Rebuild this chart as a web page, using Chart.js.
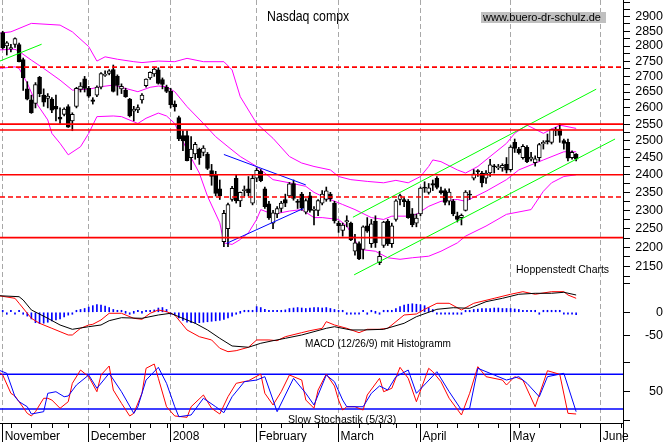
<!DOCTYPE html>
<html><head><meta charset="utf-8">
<script src="https://cdn.jsdelivr.net/npm/chart.js@4.4.1/dist/chart.umd.min.js"></script>
<style>
html,body{margin:0;padding:0;background:#fff;}
#wrap{position:relative;width:671px;height:442px;overflow:hidden;background:#fff;}
#c{position:absolute;left:0;top:0;}
.t{position:absolute;font-family:'Liberation Sans',Arial,sans-serif;color:#000;white-space:nowrap;transform-origin:0 0;}
</style></head><body>
<div id="wrap">
<canvas id="c" width="671" height="442"></canvas>
<div class="t" style="left:267px;top:9px;font-size:14px;line-height:14px;transform:scaleX(0.88);">Nasdaq compx</div>
<div class="t" style="left:481px;top:12px;height:11px;width:123px;padding-left:2px;font-size:11px;line-height:11px;background:#c0c0c0;">www.buero-dr-schulz.de</div>
<div class="t" style="left:515.5px;top:263.5px;font-size:11.5px;line-height:11.5px;transform:scaleX(0.91);">Hoppenstedt Charts</div>
<div class="t" style="left:305px;top:338px;font-size:11.5px;line-height:11.5px;transform:scaleX(0.875);">MACD (12/26/9) mit Histogramm</div>
<div class="t" style="left:288px;top:413.5px;font-size:11.5px;line-height:11.5px;transform:scaleX(0.92);">Slow Stochastik (5/3/3)</div>
</div>
<script>
// ---- axis ranges (trading-day index, Nov 1 2007 = 0) ----
const xMin = -0.66, xMax = 151.44;
const monthStarts = [0, 21, 41, 62, 82, 102, 124, 146];
const monthLabels = ['November', 'December', '2008', 'February', 'March', 'April', 'May', 'June'];
const weekStarts = [2, 7, 12, 16, 26, 31, 36, 40, 44, 49, 54, 58, 63, 68, 73, 77, 87, 92, 96, 101, 106, 111, 116, 121, 126, 131, 136, 141, 151];
const priceTicks = [2125,2150,2175,2200,2225,2250,2275,2300,2325,2350,2375,2400,2425,2450,2475,2500,2525,2550,2575,2600,2625,2650,2675,2700,2725,2750,2775,2800,2825,2850,2875,2900,2925,2950];
const macdTicks = [-50, 0, 60];
const stochTicks = [0, 50, 100];

// ---- daily candles ----
const opens = [2845,2800,2790,2805,2805,2755,2660,2625,2614,2697, 2640,2630,2628,2605,2572,2580,2604,2560,2605,2658,
 2692,2662,2625,2640,2665,2703,2710,2722,2700,2660, 2655,2628,2590,2594,2625,2670,2695,2708,2721,2690,
 2666,2653,2612,2570,2515,2515,2450,2461,2474,2465, 2460,2412,2400,2360,2215,2250,2330,2390,2326,2355,
 2360,2320,2390,2410,2360,2318,2265,2290,2305,2330, 2340,2375,2325,2345,2295,2340,2300,2300,2320,2330,
 2345,2320,2265,2245,2268,2265,2190,2210,2195,2258, 2210,2270,2160,2205,2270,2210,2275,2330,2330,2325,
 2290,2265,2290,2365,2350,2375,2390,2355,2355,2325, 2325,2285,2280,2300,2345,2390,2412,2405,2390,2405,
 2425,2420,2420,2430,2415,2495,2475,2450,2480,2445, 2435,2450,2490,2500,2495,2535,2535,2500,2495,2450, 2460];
const highs = [2850,2815,2806,2828,2810,2760,2683,2640,2680,2700, 2660,2645,2632,2640,2600,2600,2610,2585,2665,2680,
 2700,2668,2632,2670,2712,2718,2722,2737,2705,2676, 2662,2630,2605,2610,2645,2692,2715,2726,2728,2695,
 2672,2662,2622,2575,2530,2530,2512,2495,2478,2485, 2465,2430,2410,2385,2300,2320,2367,2399,2351,2368,
 2395,2400,2420,2415,2365,2325,2300,2310,2325,2345, 2378,2385,2330,2350,2332,2350,2310,2330,2355,2365,
 2350,2325,2270,2265,2285,2268,2235,2215,2258,2280, 2275,2285,2190,2270,2275,2265,2330,2345,2335,2330,
 2305,2290,2365,2380,2375,2385,2395,2365,2360,2360, 2330,2295,2290,2355,2355,2415,2415,2410,2412,2445,
 2430,2430,2432,2450,2485,2505,2480,2488,2485,2465, 2455,2492,2500,2520,2535,2540,2551,2505,2505,2470, 2462];
const lows = [2790,2770,2780,2795,2747,2655,2625,2583,2600,2635, 2605,2600,2585,2560,2552,2575,2540,2530,2600,2650,
 2650,2633,2612,2635,2660,2700,2705,2650,2640,2645, 2633,2572,2560,2585,2615,2665,2690,2700,2675,2660,
 2648,2600,2590,2500,2470,2440,2415,2445,2430,2455, 2415,2370,2340,2330,2202,2202,2325,2320,2310,2340,
 2340,2315,2380,2380,2305,2275,2250,2280,2295,2310, 2335,2328,2305,2300,2290,2295,2260,2285,2315,2325,
 2325,2265,2240,2230,2255,2218,2180,2168,2170,2240, 2200,2200,2155,2200,2205,2200,2270,2315,2310,2278,
 2255,2255,2285,2350,2345,2355,2360,2345,2315,2315, 2285,2268,2260,2298,2330,2385,2395,2365,2375,2395,
 2405,2415,2410,2405,2410,2465,2460,2445,2435,2440, 2425,2440,2475,2490,2490,2515,2495,2475,2440,2445, 2440];
const closes = [2794,2811,2795,2825,2748,2696,2627,2585,2674,2645, 2618,2637,2593,2596,2565,2596,2541,2580,2662,2669,
 2661,2637,2620,2666,2709,2707,2718,2652,2671,2668, 2635,2575,2596,2601,2640,2691,2713,2724,2677,2674,
 2652,2610,2603,2505,2499,2441,2475,2489,2450,2478, 2418,2395,2347,2340,2292,2316,2361,2326,2350,2358,
 2349,2390,2413,2383,2310,2279,2293,2305,2320,2320, 2374,2333,2322,2306,2327,2300,2303,2327,2345,2354,
 2332,2271,2258,2260,2272,2220,2212,2170,2255,2243, 2263,2212,2177,2268,2209,2258,2326,2341,2324,2280,
 2261,2279,2362,2362,2363,2370,2364,2349,2322,2351, 2290,2275,2286,2351,2342,2403,2408,2377,2405,2429,
 2423,2424,2427,2413,2481,2477,2464,2483,2438,2451, 2446,2488,2495,2497,2534,2529,2516,2492,2448,2465, 2445];

// ---- Bollinger bands [day, value] ----
const bbUpper = [[-1,2843],[2,2848],[7,2877],[14,2871],[17,2848],[21,2798],[23,2750],[25,2764],[28,2756],[32,2748],[34,2745],[38,2750],[42,2748],[45,2759],[49,2748],[54,2748],[56,2721],[58,2635],[62,2552],[66,2507],[70,2453],[73,2434],[76,2424],[80,2414],[82,2395],[85,2386],[89,2381],[93,2377],[96,2384],[99,2377],[102,2395],[104,2424],[105,2443],[107,2438],[111,2414],[113,2405],[116,2424],[119,2453],[123,2492],[125,2522],[128,2547],[132,2522],[136,2547],[140,2537]];
const bbMiddle = [[-1,2787],[3,2789],[4,2782],[7,2753],[10,2726],[14,2688],[17,2656],[21,2659],[24,2667],[27,2672],[29,2665],[33,2651],[36,2665],[38,2669],[40,2667],[42,2651],[45,2604],[49,2552],[52,2512],[55,2482],[58,2453],[62,2424],[66,2386],[70,2377],[74,2367],[76,2350],[78,2339],[80,2330],[83,2316],[86,2302],[90,2280],[93,2275],[95,2284],[99,2284],[101,2289],[104,2311],[107,2325],[111,2330],[113,2325],[118,2353],[123,2386],[126,2414],[132,2443],[137,2467],[140,2467]];
const bbLower = [[-1,2726],[3,2731],[4,2726],[6,2678],[8,2619],[11,2563],[12,2522],[14,2492],[16,2458],[19,2482],[21,2522],[23,2573],[27,2575],[29,2573],[33,2552],[35,2568],[38,2584],[40,2575],[42,2552],[45,2472],[48,2405],[50,2339],[53,2266],[54,2212],[56,2208],[58,2221],[60,2239],[62,2275],[63,2302],[66,2289],[70,2298],[73,2302],[76,2280],[78,2280],[82,2275],[84,2257],[86,2221],[87,2195],[91,2190],[94,2173],[97,2169],[100,2173],[104,2177],[107,2190],[111,2212],[113,2230],[118,2257],[123,2289],[129,2302],[132,2353],[134,2377],[137,2395],[140,2400]];

// ---- support / resistance and trend lines ----
const solidLevels = [2550, 2532, 2400, 2226];
const dashedLevels = [2730, 2337];
const greenLines = [
  [[-0.7, 2750], [9.5, 2806]],
  [[85.5, 2281], [144.9, 2659]],
  [[85.8, 2129], [149.5, 2505]]
];
const blueLines = [
  [[54.0, 2459], [74.0, 2371]],
  [[54.7, 2211], [73.4, 2305]]
];

// ---- MACD (12/26/9) ----
const macdLine = [[-1,35],[3,29.5],[4,19],[7,-12.7],[9,-23.2],[12,-33.8],[14,-40.9],[16,-47.9],[17,-47.9],[19,-33.8],[21,-26.8],[22,-25.3],[24,-16.2],[26,-2.1],[29,-2.1],[32,-12.7],[34,-14.8],[36,-2.1],[38,4.9],[40,1.3],[42,-5.7],[45,-37.3],[48,-51.5],[51,-58.4],[53,-75.9],[55,-83.1],[57,-81],[60,-73.8],[62,-58.4],[65,-58.4],[67,-59.9],[69,-51.5],[73,-43],[75,-38.8],[78,-33.8],[79,-19.8],[81,-26.8],[84,-33.8],[87,-43],[89,-35.9],[92,-35.9],[94,-33.8],[98,-5.7],[101,-3.6],[103,6.3],[106,19],[109,19],[112,4.9],[115,19],[120,29.5],[124,38],[127,43.5],[130,38],[134,43.5],[137,43.5],[138,36.5],[140,29.5]];
const macdSignal = [[-1,35],[4,32.9],[5,25.9],[7,4.9],[11,-12.7],[14,-26.8],[17,-35.9],[21,-30.4],[24,-26.8],[26,-17.7],[29,-11.4],[34,-12.7],[38,-5.7],[41,-2.1],[43,-9.3],[47,-23.2],[50,-37.3],[53,-54.9],[56,-71.1],[60,-73.8],[63,-65.4],[66,-59.9],[69,-54.9],[73,-47.9],[76,-40.9],[79,-33.8],[81,-30.4],[85,-37.3],[88,-37.3],[93,-35.9],[98,-23.2],[101,-9.3],[106,6.3],[110,9.7],[114,8.4],[118,22.4],[122,29.5],[126,38],[130,40.1],[134,40.1],[137,42.2],[140,36.5]];
const macdHist = [1,-1,1,-1,1,-2, -8,-14,-22,-24,-23,-21,-18,-16,-14,-10,-6, -2,
 3,6,8,11,14,16,15,13,10,6,3, 1,0,-1,0,1,0,1,1, 5,9,10,6, -2,
 -6,-12,-17,-21,-22,-23,-22,-21,-20,-19,-18,-17,-15,-12,-8, -3,0,1,2,1,
 12,10,6,3,3,4,3,5,8,9,10,9,8,9,10,10,9,10,8,6,
 2,1,-2,-1,-3,-2,1,-1,1,0,-1,1,2, 4,8,12,15,17,18,17,16,14,10,6,
 -1,-3,-4,-4,-3,-2,-1, 2,4, 6,7,8,8,8,9,9,8,8,8,7,6,4,
 2,1,2,-1,1,2,3,2,1,-1,-2,-3,-5];

// ---- Slow Stochastik (5/3/3) ----
const stochK = [[-1,84.6],[0,78.9],[2,47.2],[3,42.6],[4,32.7],[6,12.6],[7,8],[8,15.4],[10,38.6],[11,38.6],[12,35.6],[14,21.3],[16,32.7],[17,64.5],[19,87.5],[21,76],[23,50],[24,78.9],[26,94.5],[27,52.9],[29,29.9],[31,8],[32,12.6],[34,47.2],[35,90.5],[37,97.9],[38,73.2],[40,24],[42,8],[45,5.7],[46,24],[49,44.3],[51,21.3],[53,11.4],[55,41.3],[57,64.5],[60,69],[63,80.6],[64,47.2],[66,27],[68,50],[70,78.9],[73,70.2],[74,35.6],[76,21.3],[77,52.9],[79,80.6],[81,59.9],[82,35.6],[83,18.3],[84,24],[86,24],[88,18.3],[89,44.3],[92,73.2],[93,50],[95,55.9],[97,92.2],[99,73.2],[101,32.7],[104,90.5],[105,84.6],[107,67.3],[109,38.6],[112,9.7],[114,47.2],[116,93.3],[118,76],[122,70.2],[123,61.6],[125,76],[127,70.2],[130,24],[133,86.3],[136,80.1],[138,12.6],[140,11.4]];
const stochD = [[-1,87.5],[1,81.8],[3,41.3],[4,32.7],[6,24],[7,11.4],[10,15.4],[11,47.2],[13,50],[15,41.3],[16,42.6],[18,61.6],[21,78.9],[23,55.9],[26,81.8],[29,50],[32,12.6],[33,24],[35,70.2],[38,92.2],[40,64.5],[42,24],[43,6.7],[46,9.7],[49,38.6],[52,24],[54,13.7],[56,41.3],[59,67.3],[62,70.2],[64,76],[66,35.6],[67,15.4],[71,73.2],[74,47.2],[76,27],[79,78.9],[81,67.3],[83,35.6],[84,24],[88,24],[90,47.2],[92,59.9],[94,52.9],[96,76],[99,87.5],[101,47.2],[106,84.6],[109,50],[112,18.3],[114,21.3],[116,90.5],[120,78.9],[123,70.2],[126,76],[128,64.5],[131,41.3],[133,76],[137,81.8],[140,15.4]];
const stochLevels = [80, 20];

// ---- build ----
Chart.defaults.font.family = "'Liberation Sans', Arial, sans-serif";
Chart.defaults.color = '#000';
const xy = arr => arr.map(p => ({x: p[0], y: p[1]}));
const days = opens.map((_, i) => i);
function line(data, color, axis, order, width, dash) {
  return {type: 'line', yAxisID: axis, data: data, borderColor: color, borderWidth: width || 1,
    borderDash: dash || [], pointRadius: 0, pointHoverRadius: 0, tension: 0, fill: false, order: order};
}
function hline(v, color, axis, order, width, dash) {
  return line([{x: xMin, y: v}, {x: xMax, y: v}], color, axis, order, width, dash);
}
const datasets = [];
solidLevels.forEach(v => datasets.push(hline(v, '#ff0000', 'yP', 0, 1.6)));
dashedLevels.forEach(v => datasets.push(hline(v, '#ff0000', 'yP', 0, 1.6, [5, 3])));
greenLines.forEach(l => datasets.push(line(xy(l), '#00ff00', 'yP', 1, 1)));
blueLines.forEach(l => datasets.push(line(xy(l), '#0000ff', 'yP', 1, 1)));
datasets.push({type: 'bar', yAxisID: 'yP', order: 2, grouped: false, barThickness: 4, minBarLength: 1,
  data: days.map(i => ({x: i, y: [Math.min(opens[i], closes[i]), Math.max(opens[i], closes[i])]})),
  backgroundColor: days.map(i => closes[i] >= opens[i] ? '#ffffff' : '#000000'),
  borderColor: '#000', borderWidth: 1, borderSkipped: false});
datasets.push({type: 'bar', yAxisID: 'yP', order: 3, grouped: false, barThickness: 1,
  data: days.map(i => ({x: i, y: [lows[i], highs[i]]})), backgroundColor: '#000', borderWidth: 0});
datasets.push(line(xy(bbUpper), '#ff00ff', 'yP', 4));
datasets.push(line(xy(bbMiddle), '#ff00ff', 'yP', 4));
datasets.push(line(xy(bbLower), '#ff00ff', 'yP', 4));
datasets.push(line(xy(macdSignal), '#000000', 'yM', 5));
datasets.push(line(xy(macdLine), '#ff0000', 'yM', 5));
datasets.push({type: 'bar', yAxisID: 'yM', order: 6, grouped: false, barThickness: 1, minBarLength: 2,
  data: macdHist.map((v, i) => ({x: i, y: v})), backgroundColor: '#0000ff', borderWidth: 0});
stochLevels.forEach(v => datasets.push(hline(v, '#0000ff', 'yS', 8, 1.5)));
datasets.push(line(xy(stochD), '#0000ff', 'yS', 7));
datasets.push(line(xy(stochK), '#ff0000', 'yS', 7));

function yAxis(type, weight, min, max, ticks, labelFn) {
  return {
    type: type, position: 'right', stack: 'panels', stackWeight: weight, min: min, max: max,
    beginAtZero: false, offset: false,
    afterFit: s => { s.width = 40; s.paddingTop = 0; s.paddingBottom = 0; },
    afterBuildTicks: ax => { ax.ticks = ticks.map(v => ({value: v})); },
    grid: {drawOnChartArea: false, drawTicks: true, tickLength: 7, tickColor: '#000', tickWidth: 1},
    border: {display: true, color: '#000', width: 1},
    ticks: {crossAlign: 'far', padding: 0, autoSkip: false, color: '#000',
      font: {size: 12.5, lineHeight: 0.01}, callback: v => labelFn(v)}
  };
}

const minorTicks = {
  id: 'minorTicks',
  afterDraw(chart) {
    const xs = chart.scales.x, ctx = chart.ctx, b = chart.chartArea.bottom;
    ctx.save();
    ctx.strokeStyle = '#000'; ctx.lineWidth = 1;
    ctx.beginPath();
    weekStarts.forEach(d => {
      const px = Math.round(xs.getPixelForValue(d)) + 0.5;
      ctx.moveTo(px, b); ctx.lineTo(px, b + 5);
    });
    const rx = Math.round(chart.chartArea.right) + 0.5;
    ctx.moveTo(rx, b); ctx.lineTo(rx, chart.height);
    ctx.stroke();
    ctx.restore();
  }
};

new Chart(document.getElementById('c'), {
  type: 'line',
  data: {datasets: datasets},
  plugins: [minorTicks],
  options: {
    responsive: false, animation: false, devicePixelRatio: 1,
    layout: {padding: {left: 0, top: 0, bottom: 0, right: 8}, autoPadding: false},
    plugins: {legend: {display: false}, tooltip: {enabled: false}, title: {display: false}},
    events: [],
    scales: {
      x: {
        type: 'linear', min: xMin, max: xMax, offset: false, position: 'bottom',
        afterFit: s => { s.height = 19; s.paddingLeft = 0; s.paddingRight = 0; },
        afterBuildTicks: ax => { ax.ticks = monthStarts.map(v => ({value: v})); },
        grid: {color: '#a8a8a8', lineWidth: 1, drawOnChartArea: true, drawTicks: true, tickLength: 19,
          tickColor: '#000', tickWidth: 1, tickBorderDash: [], offset: false},
        border: {display: true, color: '#000', width: 1, dash: [5, 3]},
        ticks: {autoSkip: false, maxRotation: 0, minRotation: 0, align: 'start', labelOffset: 2, padding: -13,
          color: '#000', font: {size: 12},
          callback: v => { const k = monthStarts.indexOf(v); return k >= 0 ? monthLabels[k] : ''; }}
      },
      yP: yAxis('logarithmic', 283, 2108.3, 2958.6, priceTicks,
        v => (v % 50 === 0 && v >= 2150 && v <= 2900) ? String(v) : ''),
      yM: yAxis('linear', 79, -104.9, 61.8, macdTicks, v => (v === 0 || v === -50) ? String(v) : ''),
      yS: yAxis('linear', 61, -4.15, 101.4, stochTicks, v => v === 50 ? '50' : '')
    }
  }
});
</script>
</body></html>
